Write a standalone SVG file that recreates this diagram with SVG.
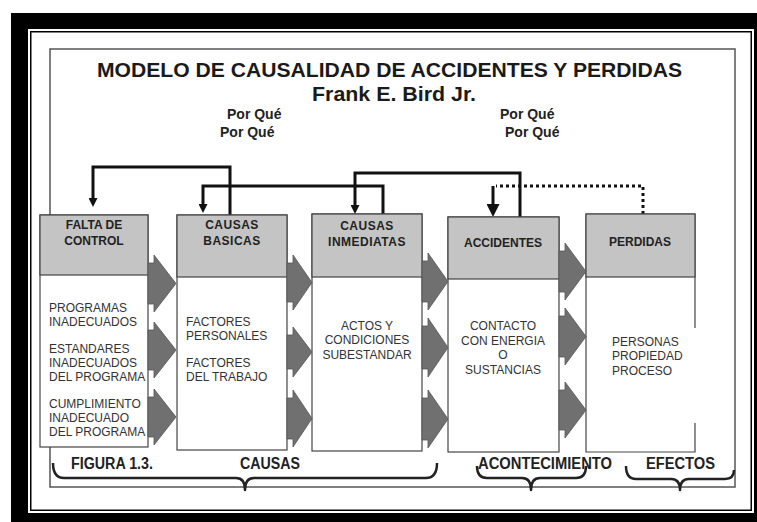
<svg xmlns="http://www.w3.org/2000/svg" width="757" height="522" viewBox="0 0 757 522">
<defs>
<style>
.hdr{fill:#c4c4c4;stroke:#444;stroke-width:1.2}
.body{fill:#fff;stroke:#444;stroke-width:1.2}
.ht{font-family:"Liberation Sans",Arial,sans-serif;font-weight:bold;font-size:12px;fill:#222;text-anchor:middle}
.bt{font-family:"Liberation Sans",Arial,sans-serif;font-size:12px;fill:#333}
.btc{font-family:"Liberation Sans",Arial,sans-serif;font-size:12px;fill:#333;text-anchor:middle}
.arr{fill:#707070;stroke:#555;stroke-width:0.8}
.con{fill:none;stroke:#111;stroke-width:3}
.title{font-family:"Liberation Sans",Arial,sans-serif;font-weight:bold;font-size:20.5px;fill:#1a1a1a}
.pq{font-family:"Liberation Sans",Arial,sans-serif;font-weight:bold;font-size:14px;fill:#222}
.lab{font-family:"Liberation Sans",Arial,sans-serif;font-weight:bold;font-size:16px;fill:#222}
.brace{fill:none;stroke:#222;stroke-width:2.5;stroke-linejoin:round}
</style>
<marker id="ah" markerUnits="userSpaceOnUse" viewBox="0 0 10 10" refX="0" refY="5" markerWidth="10" markerHeight="9" orient="auto">
<path d="M0,0 L10,5 L0,10 z" fill="#111"/>
</marker>
<marker id="ahb" markerUnits="userSpaceOnUse" viewBox="0 0 10 10" refX="0" refY="5" markerWidth="13" markerHeight="13" orient="auto">
<path d="M0,0 L10,5 L0,10 z" fill="#111"/>
</marker>
</defs>

<rect x="0" y="0" width="757" height="522" fill="#fff"/>
<rect x="11" y="13" width="746" height="509" fill="#000"/>
<rect x="28" y="29" width="726" height="484" fill="#fff"/>
<rect x="30.75" y="31.75" width="720.5" height="478.5" fill="#fff" stroke="#000" stroke-width="1.5"/>
<rect x="50" y="49" width="685" height="438" fill="#fff" stroke="#555" stroke-width="1.5"/>

<text class="title" x="97" y="77" textLength="585" lengthAdjust="spacingAndGlyphs">MODELO DE CAUSALIDAD DE ACCIDENTES Y PERDIDAS</text>
<text class="title" x="312" y="101" textLength="164" lengthAdjust="spacingAndGlyphs">Frank E. Bird Jr.</text>
<text class="pq" x="227" y="119">Por Qué</text>
<text class="pq" x="220" y="137">Por Qué</text>
<text class="pq" x="500" y="119">Por Qué</text>
<text class="pq" x="505" y="137">Por Qué</text>

<g id="connectors">
<path class="con" d="M230,215 V167 H93 V198" marker-end="url(#ah)"/>
<path class="con" d="M383,214 V186 H203 V204" marker-end="url(#ah)"/>
<path class="con" d="M520,217 V173 H355 V205" marker-end="url(#ah)"/>
<path class="con" d="M643,214 V186 H496" stroke-dasharray="3,3"/>
<path class="con" d="M493,186 V204" marker-end="url(#ahb)"/>
</g>

<g id="falta-de-control">
<rect class="body" x="40" y="215" width="108" height="232"/>
<rect class="hdr" x="40" y="215" width="108" height="60"/>
<text class="ht" x="94" y="229">FALTA DE</text>
<text class="ht" x="94" y="245">CONTROL</text>
<text class="bt" x="49" y="312">PROGRAMAS</text>
<text class="bt" x="49" y="326">INADECUADOS</text>
<text class="bt" x="49" y="353">ESTANDARES</text>
<text class="bt" x="49" y="367">INADECUADOS</text>
<text class="bt" x="49" y="381">DEL PROGRAMA</text>
<text class="bt" x="49" y="408">CUMPLIMIENTO</text>
<text class="bt" x="49" y="422">INADECUADO</text>
<text class="bt" x="49" y="436">DEL PROGRAMA</text>
</g>

<g id="causas-basicas">
<rect class="body" x="177" y="215" width="110" height="235"/>
<rect class="hdr" x="177" y="215" width="110" height="62"/>
<text class="ht" x="232" y="229" letter-spacing="0.5">CAUSAS</text>
<text class="ht" x="232" y="245" letter-spacing="0.5">BASICAS</text>
<text class="bt" x="186" y="326">FACTORES</text>
<text class="bt" x="186" y="340">PERSONALES</text>
<text class="bt" x="186" y="367">FACTORES</text>
<text class="bt" x="186" y="381">DEL TRABAJO</text>
</g>

<g id="causas-inmediatas">
<rect class="body" x="312" y="214" width="110" height="237"/>
<rect class="hdr" x="312" y="214" width="110" height="63"/>
<text class="ht" x="367" y="230" letter-spacing="0.5">CAUSAS</text>
<text class="ht" x="367" y="246" letter-spacing="0.5">INMEDIATAS</text>
<text class="btc" x="367" y="330">ACTOS Y</text>
<text class="btc" x="367" y="344">CONDICIONES</text>
<text class="btc" x="367" y="359">SUBESTANDAR</text>
</g>

<g id="accidentes">
<rect class="body" x="448" y="217" width="111" height="235"/>
<rect class="hdr" x="448" y="217" width="111" height="62"/>
<text class="ht" x="503" y="247">ACCIDENTES</text>
<text class="btc" x="503" y="330">CONTACTO</text>
<text class="btc" x="503" y="345">CON ENERGIA</text>
<text class="btc" x="503" y="359">O</text>
<text class="btc" x="503" y="374">SUSTANCIAS</text>
</g>

<g id="perdidas">
<path d="M586,214 H695 V452 H586 Z" fill="#fff" stroke="none"/>
<path d="M695,328 V214 H586 V452 H695 V423" fill="none" stroke="#444" stroke-width="1.2"/>
<rect class="hdr" x="586" y="214" width="109" height="63"/>
<text class="ht" x="640" y="246">PERDIDAS</text>
<text class="bt" x="612" y="346">PERSONAS</text>
<text class="bt" x="612" y="360">PROPIEDAD</text>
<text class="bt" x="612" y="375">PROCESO</text>
</g>

<g id="flow-arrows">
<polygon class="arr" points="148,263 154,263 154,255 176,283.5 154,312 154,304 148,304"/>
<polygon class="arr" points="148,330 154,330 154,322 176,350 154,378 154,370 148,370"/>
<polygon class="arr" points="148,397 154,397 154,389 176,417 154,445 154,437 148,437"/>
<polygon class="arr" points="287,263 293,263 293,255 312,282.5 293,310 293,302 287,302"/>
<polygon class="arr" points="287,335 293,335 293,327 312,352 293,377 293,369 287,369"/>
<polygon class="arr" points="287,398 293,398 293,390 312,418.5 293,447 293,439 287,439"/>
<polygon class="arr" points="422,261 428,261 428,253 448,281.5 428,310 428,302 422,302"/>
<polygon class="arr" points="422,326 428,326 428,318 448,347.5 428,377 428,369 422,369"/>
<polygon class="arr" points="422,398 428,398 428,390 448,419 428,448 428,440 422,440"/>
<polygon class="arr" points="559,251 565,251 565,243 586,271.5 565,300 565,292 559,292"/>
<polygon class="arr" points="559,316 565,316 565,308 586,336.5 565,365 565,357 559,357"/>
<polygon class="arr" points="559,390 565,390 565,382 586,410 565,438 565,430 559,430"/>
</g>

<g id="labels">
<text class="lab" x="71" y="469" textLength="82" lengthAdjust="spacingAndGlyphs">FIGURA 1.3.</text>
<text class="lab" x="240" y="469" textLength="60" lengthAdjust="spacingAndGlyphs">CAUSAS</text>
<text class="lab" x="478" y="469" textLength="134" lengthAdjust="spacingAndGlyphs">ACONTECIMIENTO</text>
<text class="lab" x="646" y="469" textLength="69" lengthAdjust="spacingAndGlyphs">EFECTOS</text>
</g>

<g id="braces">
<path class="brace" d="M53,463 Q53,478 64,478 H236 Q245,478 245,490 Q245,478 254,478 H426 Q437,478 437,463"/>
<path class="brace" d="M477,466 Q477,478 487,478 H522 Q531,478 531,490 Q531,478 540,478 H576 Q586,478 586,466"/>
<path class="brace" d="M626,466 Q626,479 636,479 H671 Q680,479 680,490 Q680,479 689,479 H725 Q734,479 734,470"/>
</g>
</svg>
